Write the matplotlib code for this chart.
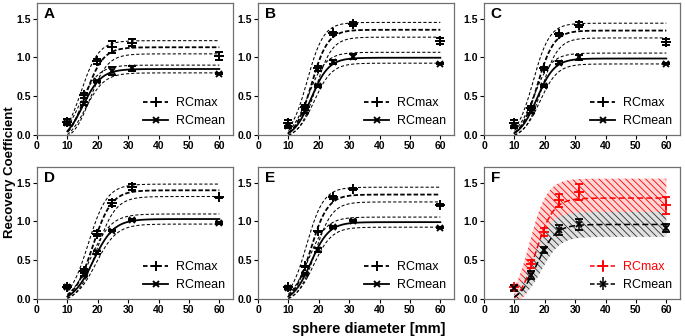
import numpy as np
import matplotlib
matplotlib.use("Agg")
import matplotlib.pyplot as plt
from matplotlib.lines import Line2D

plt.rcParams['font.family'] = ['Liberation Sans Narrow', 'Liberation Sans', 'DejaVu Sans']
plt.rcParams['hatch.linewidth'] = 0.6

# sphere diameters (mm)
diam = [10, 15.4, 19.8, 24.8, 31.3, 60]
x_ticks = [0, 10, 20, 30, 40, 50, 60]
y_ticks = [0.0, 0.5, 1.0, 1.5]
panel_labels = ['A', 'B', 'C', 'D', 'E', 'F']

# measured recovery coefficients and errors
rcmax_A = [0.17, 0.51, 0.95, 1.13, 1.19, 1.02]
rcmax_err_A = [0.03, 0.03, 0.03, 0.08, 0.04, 0.05]
rcmean_A = [0.15, 0.40, 0.69, 0.82, 0.86, 0.79]
rcmean_err_A = [0.02, 0.02, 0.01, 0.05, 0.03, 0.01]

rcmax_B = [0.15, 0.36, 0.86, 1.31, 1.43, 1.21]
rcmax_err_B = [0.04, 0.02, 0.03, 0.02, 0.03, 0.04]
rcmean_B = [0.12, 0.30, 0.63, 0.94, 1.01, 0.92]
rcmean_err_B = [0.03, 0.02, 0.01, 0.02, 0.03, 0.01]

rcmax_C = [0.15, 0.35, 0.86, 1.30, 1.42, 1.20]
rcmax_err_C = [0.04, 0.02, 0.02, 0.02, 0.03, 0.04]
rcmean_C = [0.12, 0.30, 0.63, 0.93, 1.00, 0.92]
rcmean_err_C = [0.03, 0.02, 0.01, 0.02, 0.03, 0.01]

rcmax_D = [0.16, 0.36, 0.84, 1.24, 1.44, 1.31]
rcmax_err_D = [0.02, 0.03, 0.03, 0.04, 0.04, 0.01]
rcmean_D = [0.15, 0.31, 0.60, 0.88, 1.02, 0.98]
rcmean_err_D = [0.01, 0.02, 0.02, 0.01, 0.01, 0.01]

rcmax_E = [0.15, 0.42, 0.87, 1.31, 1.42, 1.21]
rcmax_err_E = [0.02, 0.01, 0.01, 0.02, 0.01, 0.01]
rcmean_E = [0.14, 0.32, 0.63, 0.93, 1.01, 0.92]
rcmean_err_E = [0.01, 0.01, 0.03, 0.01, 0.01, 0.01]

rcmax_F = [0.15, 0.45, 0.86, 1.27, 1.38, 1.21]
rcmax_err_F = [0.03, 0.05, 0.05, 0.08, 0.10, 0.11]
rcmean_F = [0.14, 0.31, 0.63, 0.89, 0.96, 0.91]
rcmean_err_F = [0.04, 0.05, 0.04, 0.06, 0.07, 0.05]

# sigmoid fit parameters: (top, x50, slope, bottom, band_dtop, band_dx)
fit_max_A = (1.13, 16.0, 2.9, -0.10, 0.085, 1.5)
fit_mean_A = (0.85, 15.0, 3.1, -0.11, 0.05, 1.0)
fit_max_B = (1.355, 17.6, 2.7, -0.05, 0.095, 1.4)
fit_mean_B = (0.995, 17.5, 2.9, -0.05, 0.07, 1.0)
fit_max_C = (1.345, 17.6, 2.7, -0.05, 0.095, 1.4)
fit_mean_C = (0.985, 17.4, 2.9, -0.05, 0.07, 1.0)
fit_max_D = (1.40, 18.3, 3.1, -0.05, 0.08, 1.4)
fit_mean_D = (1.03, 18.5, 3.4, -0.05, 0.065, 0.9)
fit_max_E = (1.345, 17.4, 2.8, -0.05, 0.095, 1.4)
fit_mean_E = (0.99, 17.4, 3.0, -0.05, 0.065, 0.9)
fit_max_F = (1.30, 17.0, 2.9, -0.10, 0.25, 2.0)
fit_mean_F = (0.96, 17.5, 3.0, -0.05, 0.16, 1.5)

data = {
    'A': (rcmax_A, rcmax_err_A, rcmean_A, rcmean_err_A, fit_max_A, fit_mean_A),
    'B': (rcmax_B, rcmax_err_B, rcmean_B, rcmean_err_B, fit_max_B, fit_mean_B),
    'C': (rcmax_C, rcmax_err_C, rcmean_C, rcmean_err_C, fit_max_C, fit_mean_C),
    'D': (rcmax_D, rcmax_err_D, rcmean_D, rcmean_err_D, fit_max_D, fit_mean_D),
    'E': (rcmax_E, rcmax_err_E, rcmean_E, rcmean_err_E, fit_max_E, fit_mean_E),
    'F': (rcmax_F, rcmax_err_F, rcmean_F, rcmean_err_F, fit_max_F, fit_mean_F),
}


def sigmoid(x, top, x50, k, bottom):
    return bottom + (top - bottom) / (1.0 + np.exp((x50 - x) / k))


def curves(xs, p):
    top, x50, k, bottom, dtop, dx = p
    fit = sigmoid(xs, top, x50, k, bottom)
    hi = sigmoid(xs, top + dtop, x50 - dx, k, bottom)
    lo = sigmoid(xs, top - dtop, x50 + dx, k, bottom)
    return fit, hi, lo


W, H = 685, 336
fig = plt.figure(figsize=(W / 100, H / 100), dpi=100)

lefts = [37, 258, 484]
tops = [3, 167]
aw, ah = 196, 132
spine_col = '#707070'
xs = np.linspace(10, 60, 400)
leg_prop = {'family': ['Liberation Sans', 'DejaVu Sans'], 'size': 9}

for i, lab in enumerate(panel_labels):
    r, c = divmod(i, 3)
    l = lefts[c]
    t = tops[r]
    ax = fig.add_axes([l / W, 1 - (t + ah) / H, aw / W, ah / H])
    rmax, rmax_e, rmean, rmean_e, pmax, pmean = data[lab]
    fmax, hmax, lmax = curves(xs, pmax)
    fmean, hmean, lmean = curves(xs, pmean)

    if lab != 'F':
        for yy in (hmax, lmax, hmean, lmean):
            ax.plot(xs, yy, color='black', lw=0.75, ls=(0, (3, 2)))
        ax.plot(xs, fmax, color='black', lw=1.3, ls=(0, (2.5, 1.2)))
        ax.plot(xs, fmean, color='black', lw=1.3, ls='-')
        ax.errorbar(diam, rmax, yerr=rmax_e, fmt='+', color='black', ms=7, mew=1.4,
                    elinewidth=1.1, capsize=3, capthick=1.1)
        ax.errorbar(diam, rmean, yerr=rmean_e, fmt='x', color='black', ms=5, mew=1.4,
                    elinewidth=1.1, capsize=3, capthick=1.1)
        handles = [Line2D([], [], color='black', ls=(0, (2.5, 1.5)), lw=1.3, marker='+', ms=7, mew=1.4),
                   Line2D([], [], color='black', ls='-', lw=1.3, marker='x', ms=5, mew=1.4)]
        ax.legend(handles, ['RCmax', 'RCmean'], loc='lower right', frameon=False,
                  handlelength=2.0, handletextpad=0.6, borderaxespad=0.25, labelspacing=0.45,
                  prop=leg_prop)
    else:
        ax.fill_between(xs, lmax, hmax, facecolor=(1.0, 0.84, 0.84), edgecolor='red',
                        hatch='\\\\\\\\\\', linewidth=0)
        ax.fill_between(xs, lmean, hmean, facecolor=(0.88, 0.88, 0.88), edgecolor='#303030',
                        hatch='\\\\\\\\\\', linewidth=0)
        ax.plot(xs, fmax, color='red', lw=1.1, ls=(0, (4, 2)))
        ax.plot(xs, fmean, color='black', lw=1.1, ls=(0, (4, 2)))
        ax.errorbar(diam, rmax, yerr=rmax_e, fmt='+', color='red', ms=7, mew=1.3,
                    elinewidth=1.1, capsize=3, capthick=1.1)
        ax.errorbar(diam, rmean, yerr=rmean_e, fmt='x', color='black', ms=4, mew=1.3,
                    elinewidth=1.1, capsize=3, capthick=1.1)
        h1 = ax.errorbar([], [], yerr=[], fmt='+', ls=(0, (3, 1.5)), color='red', ms=7, mew=1.3,
                         elinewidth=1.1, capsize=3, lw=1.1)
        h2 = ax.errorbar([], [], yerr=[], fmt='x', ls=(0, (3, 1.5)), color='black', ms=4, mew=1.3,
                         elinewidth=1.1, capsize=3, lw=1.1)
        leg = ax.legend([h1, h2], ['RCmax', 'RCmean'], loc='lower right', frameon=False,
                        handlelength=2.0, handletextpad=0.6, borderaxespad=0.25, labelspacing=0.45,
                        prop=leg_prop)
        leg.get_texts()[0].set_color('red')

    ax.set_xlim(0, 64.5)
    ax.set_ylim(0, 1.7)
    ax.set_xticks(x_ticks)
    ax.set_yticks(y_ticks)
    ax.set_xticklabels([str(v) for v in x_ticks], fontweight='bold', fontsize=7.5)
    ax.set_yticklabels(['%.1f' % v for v in y_ticks], fontweight='bold', fontsize=7.5)
    ax.tick_params(direction='out', length=3, width=0.8, colors='black', pad=1.5)
    for s in ax.spines.values():
        s.set_color(spine_col)
        s.set_linewidth(0.9)
    ax.text(0.035, 0.97, lab, transform=ax.transAxes, fontsize=11, fontweight='bold',
            va='top', ha='left', family=['Liberation Sans', 'DejaVu Sans'])

fig.text(10 / W, 1 - 172 / H, 'Recovery Coefficient', rotation=90, ha='center', va='center',
         fontsize=9.5, fontweight='bold', family=['Liberation Sans', 'DejaVu Sans'])
fig.text(369 / W, 1 - 329 / H, 'sphere diameter [mm]', ha='center', va='center',
         fontsize=10.5, fontweight='bold', family=['Liberation Sans', 'DejaVu Sans'])

fig.savefig('out.png', dpi=100)
